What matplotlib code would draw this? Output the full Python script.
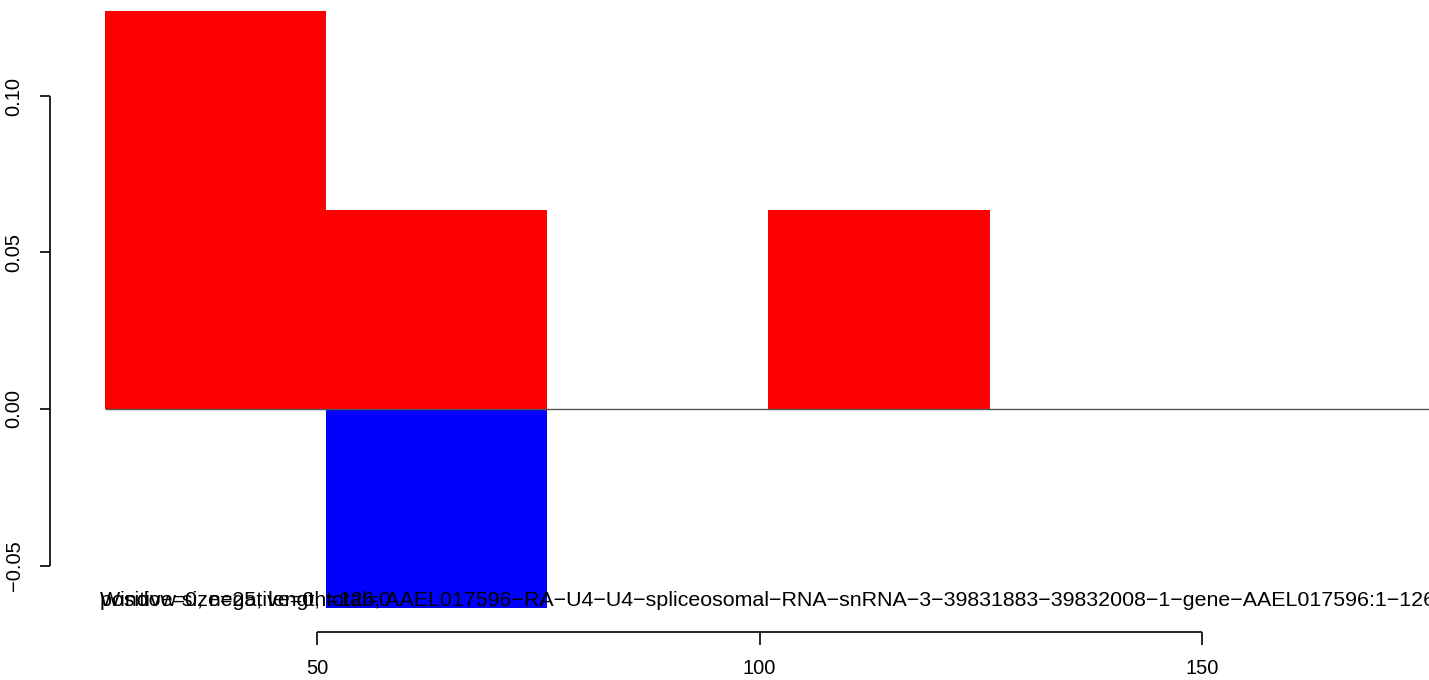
import matplotlib
matplotlib.use("Agg")
import matplotlib.pyplot as plt

plt.rcParams['font.family'] = ['Liberation Sans', 'DejaVu Sans']

# data
window_starts = [26, 51, 76, 101]
window_size = 25
positive = [0.127, 0.0635, 0.0, 0.0635]
negative = [0.0, -0.0635, 0.0, 0.0]
x_ticks = [50, 100, 150]
y_ticks = [-0.05, 0.0, 0.05, 0.10]
y_tick_labels = ["\u22120.05", "0.00", "0.05", "0.10"]
label_main = ("Window size=25, length=126, AAEL017596\u2212RA\u2212U4\u2212U4\u2212spliceosomal\u2212RNA\u2212snRNA"
              "\u22123\u221239831883\u221239832008\u22121\u2212gene\u2212AAEL017596:1\u2212126")
label_counts = "positive=0, negative=0, total=0"

W, H = 1429, 680
fig = plt.figure(figsize=(W / 100, H / 100), dpi=100)
ax = fig.add_axes([0, 0, 1, 1])

# pixel mapping: x=50 at px 317, 8.85 px per unit; y=0 at px 409, 3130 px per unit
xpx = 8.85
x0 = 50 - 317 / xpx
x1 = 50 + (W - 317) / xpx
ypx = 3130.0
y1 = 409 / ypx
y0 = -(H - 409) / ypx
ax.set_xlim(x0, x1)
ax.set_ylim(y0, y1)
ax.axis('off')

ax.bar(window_starts, positive, width=window_size, align='edge', color='#ff0000', linewidth=0, zorder=2)
ax.bar(window_starts, negative, width=window_size, align='edge', color='#0000ff', linewidth=0, zorder=2)
ax.hlines(0, window_starts[0], x1 + 5, color='#555555', linewidth=1.0, zorder=3)

# left axis
xa = x0 + 50 / xpx
tick_len_x = 10 / xpx
ax.plot([xa, xa], [y_ticks[0], y_ticks[-1]], color='black', lw=1.2, clip_on=False, solid_capstyle='butt')
for yt, lab in zip(y_ticks, y_tick_labels):
    ax.plot([xa - tick_len_x, xa], [yt, yt], color='black', lw=1.2, clip_on=False, solid_capstyle='butt')
    ax.text(x0 + 14 / xpx, yt, lab, rotation=90, ha='center', va='center', fontsize=14.5)

# bottom axis
ya = (409 - 632) / ypx
tick_len_y = 13 / ypx
ax.plot([x_ticks[0], x_ticks[-1]], [ya, ya], color='black', lw=1.2, clip_on=False, solid_capstyle='butt')
for xt in x_ticks:
    ax.plot([xt, xt], [ya - tick_len_y, ya], color='black', lw=1.2, clip_on=False, solid_capstyle='butt')
    ax.text(xt, (409 - 669) / ypx, str(xt), ha='center', va='center', fontsize=14.5)

ty = (409 - 601) / ypx
tx = x0 + 100 / xpx
ax.text(tx, ty, label_main, ha='left', va='center', fontsize=15.4, zorder=5)
ax.text(tx, ty, label_counts, ha='left', va='center', fontsize=15.4, zorder=5)

fig.savefig("out.png", dpi=100)
